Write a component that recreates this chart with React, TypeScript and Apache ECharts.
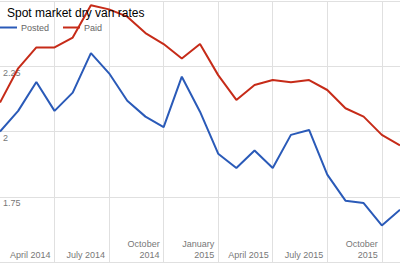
import React, { useEffect, useRef } from "react";
import * as echarts from "echarts";

const months = [
  "Jan 2014", "Feb 2014", "Mar 2014", "Apr 2014", "May 2014", "Jun 2014",
  "Jul 2014", "Aug 2014", "Sep 2014", "Oct 2014", "Nov 2014", "Dec 2014",
  "Jan 2015", "Feb 2015", "Mar 2015", "Apr 2015", "May 2015", "Jun 2015",
  "Jul 2015", "Aug 2015", "Sep 2015", "Oct 2015", "Nov 2015",
];

const tickLabels: Record<number, string> = {
  3: "April 2014",
  6: "July 2014",
  9: "October\n2014",
  12: "January\n2015",
  15: "April 2015",
  18: "July 2015",
  21: "October\n2015",
};

const posted = [
  2.0, 2.079, 2.19, 2.079, 2.149, 2.3, 2.223, 2.118, 2.057, 2.017, 2.21, 2.076,
  1.915, 1.86, 1.927, 1.86, 1.987, 2.006, 1.835, 1.735, 1.726, 1.64, 1.7,
];

const paid = [
  2.111, 2.242, 2.322, 2.322, 2.36, 2.484, 2.468, 2.44, 2.377, 2.335, 2.28, 2.335,
  2.216, 2.121, 2.178, 2.197, 2.189, 2.197, 2.159, 2.089, 2.057, 1.987, 1.947,
];

const FONT = "Arial, 'Liberation Sans', sans-serif";

export default function App() {
  const ref = useRef<HTMLDivElement>(null);
  useEffect(() => {
    document.body.style.margin = "0";
    if (!ref.current) return;
    const chart = echarts.init(ref.current, null, { renderer: "svg" });
    const showTick = (idx: number) => tickLabels[idx] !== undefined;
    chart.setOption({
      animation: false,
      backgroundColor: "#fff",
      title: {
        text: "Spot market dry van rates",
        left: 7,
        top: 7,
        padding: 0,
        textStyle: { fontSize: 12, fontWeight: "normal", color: "#000", fontFamily: FONT },
      },
      legend: {
        left: 0,
        top: 23,
        padding: 0,
        itemWidth: 17,
        itemHeight: 2,
        itemGap: 14,
        icon: "rect",
        textStyle: { fontSize: 9, color: "#666", fontFamily: FONT, padding: [0, 0, 0, -1] },
        data: ["Posted", "Paid"],
      },
      grid: { left: 0, right: 0, top: 1, bottom: 3, containLabel: false },
      xAxis: {
        type: "category",
        data: months,
        boundaryGap: false,
        axisLine: { show: false },
        axisTick: { show: false },
        axisLabel: {
          inside: true,
          interval: (idx: number) => showTick(idx),
          formatter: (_v: string, idx: number) => tickLabels[idx] ?? "",
          align: "right",
          padding: [0, 4, 0, 0],
          margin: 2,
          fontSize: 9,
          lineHeight: 11,
          color: "#777",
          fontFamily: FONT,
        },
        splitLine: {
          show: true,
          interval: (idx: number) => showTick(idx),
          lineStyle: { color: "#e0e0e0", width: 1 },
        },
      },
      yAxis: {
        type: "value",
        min: 1.5,
        max: 2.5,
        interval: 0.25,
        axisLine: { show: false },
        axisTick: { show: false },
        axisLabel: {
          inside: true,
          margin: 3,
          showMinLabel: false,
          showMaxLabel: false,
          verticalAlign: "top",
          padding: [2, 0, 0, 0],
          fontSize: 9,
          color: "#777",
          fontFamily: FONT,
          formatter: (v: number) => String(v),
        },
        splitLine: { show: true, lineStyle: { color: "#e0e0e0", width: 1 } },
      },
      series: [
        {
          name: "Posted",
          type: "line",
          data: posted,
          showSymbol: false,
          symbol: "none",
          color: "#2a5ab8",
          lineStyle: { width: 2, color: "#2a5ab8" },
          z: 3,
        },
        {
          name: "Paid",
          type: "line",
          data: paid,
          showSymbol: false,
          symbol: "none",
          color: "#c62b18",
          lineStyle: { width: 2, color: "#c62b18" },
          z: 2,
        },
      ],
    });
    return () => chart.dispose();
  }, []);
  return <div ref={ref} style={{ width: 400, height: 265 }} />;
}
